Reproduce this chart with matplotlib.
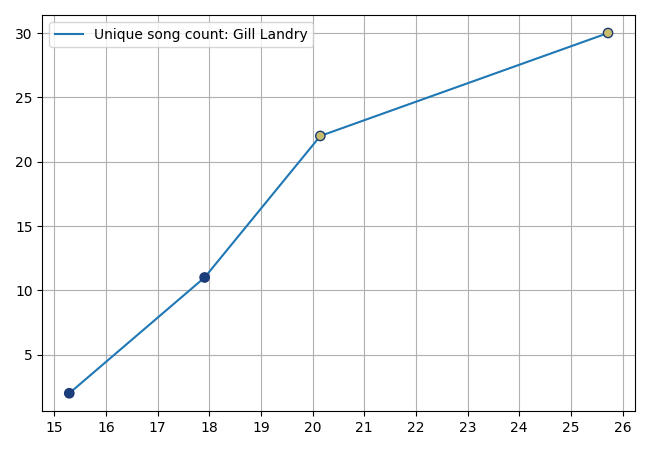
import matplotlib
matplotlib.use('Agg')
import matplotlib.pyplot as plt

x_vals = [15.29, 17.91, 20.15, 25.72]
counts = [2, 11, 22, 30]
marker_colors = ['#1a3f7e', '#1a3f7e', '#c8bd6c', '#c8bd6c']

fig, ax = plt.subplots(figsize=(6.5, 4.5), dpi=100)
ax.plot(x_vals, counts, label='Unique song count: Gill Landry', zorder=2)
ax.scatter(x_vals, counts, c=marker_colors, edgecolors='#1d3a72', s=45, linewidths=1, zorder=3)
ax.set_xticks(range(15, 27))
ax.grid(True)
ax.legend(loc='upper left')

plt.tight_layout()
plt.savefig('out.png')
